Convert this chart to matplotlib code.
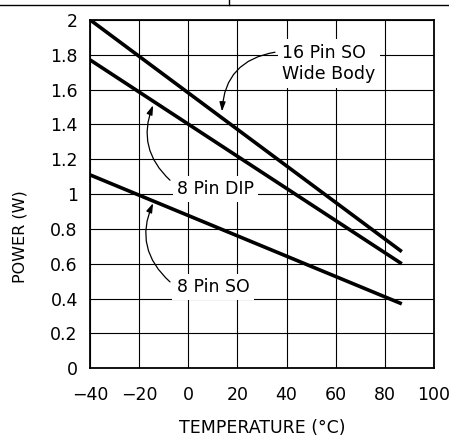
import matplotlib
matplotlib.use("Agg")
import matplotlib.pyplot as plt
from matplotlib.lines import Line2D

# ---- data ----
temps = [-40, 87]
p_16so_wide = [2.00, 0.67]
p_8dip = [1.77, 0.60]
p_8so = [1.11, 0.37]

xticks = [-40, -20, 0, 20, 40, 60, 80, 100]
xtick_labels = ["\u221240", "\u221220", "0", "20", "40", "60", "80", "100"]
yticks = [0, 0.2, 0.4, 0.6, 0.8, 1.0, 1.2, 1.4, 1.6, 1.8, 2.0]
ytick_labels = ["0", "0.2", "0.4", "0.6", "0.8", "1", "1.2", "1.4", "1.6", "1.8", "2"]

plt.rcParams['font.family'] = ['DejaVu Sans']

W, H = 449, 440
fig = plt.figure(figsize=(W / 100, H / 100), dpi=100)
ax = fig.add_axes([90.3 / W, 1 - 368.3 / H, (433.7 - 90.3) / W, (368.3 - 20) / H])

ax.set_xlim(-40, 100)
ax.set_ylim(0, 2)
ax.set_xticks(xticks)
ax.set_xticklabels(xtick_labels, fontsize=12.5)
ax.set_yticks(yticks)
ax.set_yticklabels(ytick_labels, fontsize=12.5)
ax.tick_params(length=0)
ax.tick_params(axis='x', pad=13)
ax.tick_params(axis='y', pad=9)
ax.grid(True, color='black', linewidth=0.8, zorder=1)
ax.set_axisbelow(True)
for s in ax.spines.values():
    s.set_linewidth(1.3)
    s.set_color('black')

lw = 2.6
ax.plot(temps, p_16so_wide, color='black', lw=lw, solid_capstyle='butt', zorder=3)
ax.plot(temps, p_8dip, color='black', lw=lw, solid_capstyle='butt', zorder=3)
ax.plot(temps, p_8so, color='black', lw=lw, solid_capstyle='butt', zorder=3)

bbox = dict(boxstyle='square,pad=0.25', fc='white', ec='none')
arrow_kw = dict(arrowstyle='-|>,head_length=0.55,head_width=0.18', color='black',
                lw=0.9, shrinkA=0, shrinkB=0)

# 16 Pin SO Wide Body
ax.text(38.3, 1.75, "16 Pin SO\nWide Body", fontsize=12.5, ha='left', va='center',
        linespacing=1.25, bbox=bbox, zorder=4)
ax.annotate('', xy=(13.7, 1.475), xytext=(35.3, 1.815),
            arrowprops=dict(connectionstyle='arc3,rad=0.4', **arrow_kw), zorder=5)

# 8 Pin DIP
ax.text(11.0, 1.03, "8 Pin DIP", fontsize=12.5, ha='center', va='center', bbox=bbox, zorder=4)
ax.annotate('', xy=(-14.4, 1.51), xytext=(-7.5, 1.08),
            arrowprops=dict(connectionstyle='arc3,rad=-0.34', **arrow_kw), zorder=5)

# 8 Pin SO
ax.text(10.0, 0.467, "8 Pin SO", fontsize=12.5, ha='center', va='center', bbox=bbox, zorder=4)
ax.annotate('', xy=(-14.4, 0.948), xytext=(-7.5, 0.496),
            arrowprops=dict(connectionstyle='arc3,rad=-0.36', **arrow_kw), zorder=5)

fig.text(262 / W, 1 - 428 / H, "TEMPERATURE (\u00b0C)", fontsize=12.5, ha='center', va='center')
fig.text(20 / W, 1 - 237 / H, "POWER (W)", fontsize=11.5, ha='center', va='center', rotation=90)

# page border lines at top
fig.add_artist(Line2D([0, 1], [1 - 5 / H, 1 - 5 / H], transform=fig.transFigure, color='black', lw=1.0))
fig.add_artist(Line2D([229 / W, 229 / W], [1 - 5 / H, 1], transform=fig.transFigure, color='black', lw=1.0))

fig.savefig("out.png", dpi=100)
